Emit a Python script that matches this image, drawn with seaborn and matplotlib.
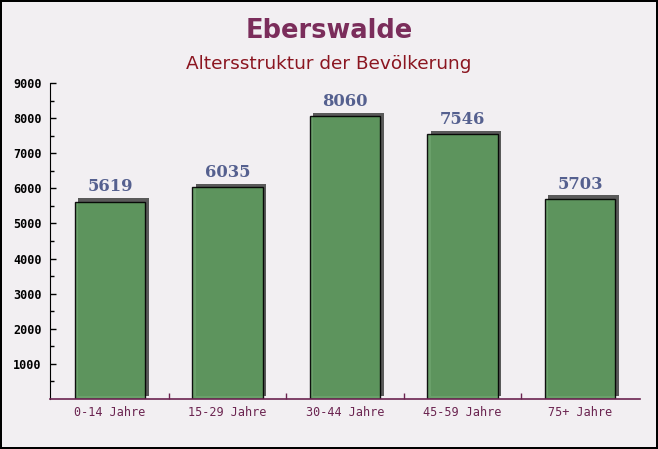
import matplotlib
matplotlib.use("Agg")
import matplotlib.pyplot as plt
import matplotlib.patheffects as pe
import pandas as pd
import seaborn as sns

# Data
age_groups = ["0-14 Jahre", "15-29 Jahre", "30-44 Jahre", "45-59 Jahre", "75+ Jahre"]
population = [5619, 6035, 8060, 7546, 5703]
y_ticks = [1000, 2000, 3000, 4000, 5000, 6000, 7000, 8000, 9000]

title = "Eberswalde"
subtitle = "Altersstruktur der Bevölkerung"

df = pd.DataFrame({"group": age_groups, "value": population})

sns.set_style("white")
plt.rcParams["font.family"] = ["DejaVu Sans"]

fig = plt.figure(figsize=(6.58, 4.49), dpi=100)
fig.patch.set_facecolor("#f2eff2")
fig.patch.set_edgecolor("black")
fig.patch.set_linewidth(1.5)

ax = fig.add_axes([50 / 658, 50 / 449, 590 / 658, 316 / 449])
ax.set_facecolor("none")

sns.barplot(data=df, x="group", y="value", color="#5e9a5e", width=0.6,
            edgecolor="black", linewidth=1, saturation=1, ax=ax)

for bar in ax.patches:
    bar.set_alpha(0.92)
    bar.set_path_effects([
        pe.SimplePatchShadow(offset=(2.6, 2.4), shadow_rgbFace="#5a5a5a", alpha=1),
        pe.Normal(),
    ])

ax.bar_label(ax.containers[0], labels=[str(v) for v in population], padding=4.5,
             fontsize=11.8, fontweight="bold", family="DejaVu Serif", color="#55608f")

ax.set_ylim(0, 9000)
ax.set_xlim(-0.51, len(age_groups) - 0.49)
ax.set_yticks(y_ticks)
ax.set_yticks(range(500, 9000, 1000), minor=True)
ax.set_yticklabels([str(t) for t in y_ticks], family="DejaVu Sans Mono",
                   fontweight="bold", fontsize=8.5, color="black")
ax.set_xticks(range(len(age_groups)))
ax.set_xticklabels(age_groups, family="DejaVu Sans Mono", fontsize=8.5, color="#6b2450")
ax.set_xticks([i + 0.5 for i in range(len(age_groups) - 1)], minor=True)

ax.tick_params(axis="y", which="major", left=True, direction="in", length=4,
               width=1, color="black", pad=6)
ax.tick_params(axis="y", which="minor", left=True, direction="in", length=3,
               width=1, color="black")
ax.tick_params(axis="x", which="major", bottom=True, length=0, pad=5)
ax.tick_params(axis="x", which="minor", bottom=True, direction="in", length=4,
               width=1, color="#6b2450")

ax.set_xlabel("")
ax.set_ylabel("")
sns.despine(ax=ax, top=True, right=True)
ax.spines["left"].set_color("black")
ax.spines["bottom"].set_color("#6b2450")
ax.spines["bottom"].set_linewidth(1.2)

fig.text(0.5, 0.93, title, ha="center", va="center", fontsize=18.5,
         fontweight="bold", color="#7b2d5b")
fig.text(0.5, 0.857, subtitle, ha="center", va="center", fontsize=13.3,
         color="#8b1520")

fig.savefig("out.png", dpi=100, facecolor=fig.get_facecolor(), edgecolor="black")
